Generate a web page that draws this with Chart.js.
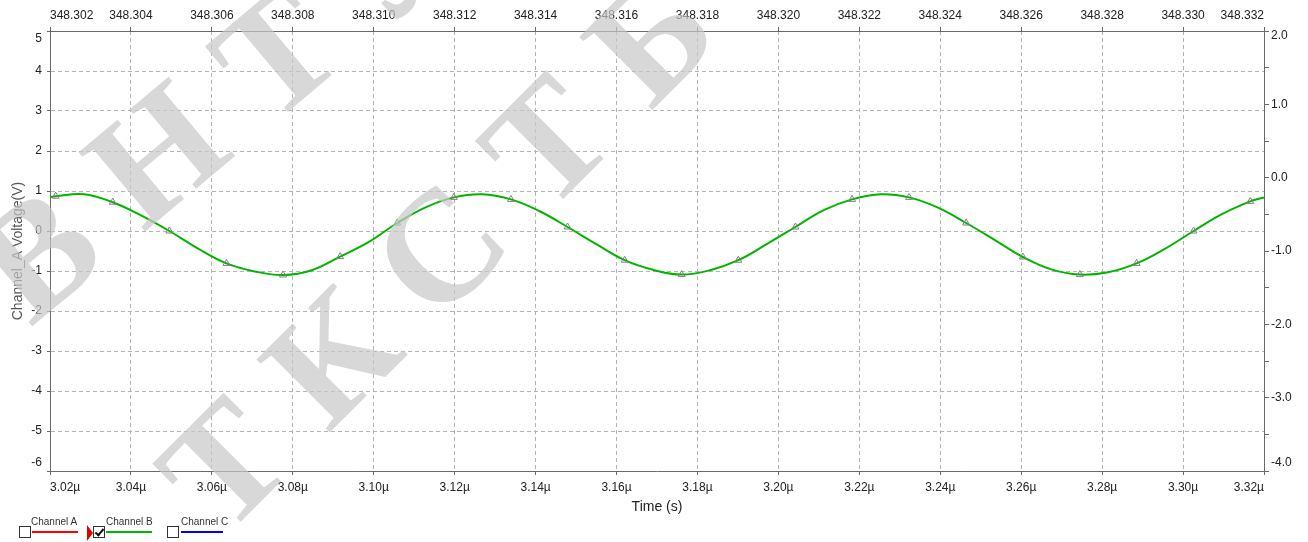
<!DOCTYPE html>
<html>
<head>
<meta charset="utf-8">
<script src="https://cdn.jsdelivr.net/npm/chart.js@4.4.1/dist/chart.umd.min.js"></script>
<style>
  html, body { margin: 0; padding: 0; background: #fff; }
  #wrap { position: relative; width: 1308px; height: 542px; overflow: hidden;
          font-family: "Liberation Sans", Arial, sans-serif; }
  #c { position: absolute; left: 0; top: 0; }
  .cb { position: absolute; top: 526px; width: 10px; height: 10px; border: 1px solid #333; background: #fff; }
  .cb.on::after { content: ""; position: absolute; left: 3px; top: 0px; width: 3px; height: 7px;
                  border-right: 2px solid #111; border-bottom: 2px solid #111; transform: rotate(40deg); }
  .lbl { position: absolute; top: 516px; font-size: 10px; line-height: 12px; color: #333; white-space: nowrap; }
  .sw { position: absolute; top: 531px; height: 2px; }
  .sel { position: absolute; left: 87px; top: 525px; width: 0; height: 0;
         border-left: 6px solid #e00000; border-top: 8px solid transparent; border-bottom: 8px solid transparent; }
  .wm { position: absolute; font-family: "Liberation Serif", "DejaVu Serif", serif; font-weight: bold;
        font-size: 158px; line-height: 1; letter-spacing: 42px; color: rgba(200,200,200,0.7); white-space: nowrap;
        transform-origin: 0 141px; pointer-events: none; }
</style>
</head>
<body>
<div id="wrap">
  <canvas id="c" width="1308" height="542"></canvas>

  <div class="cb" style="left:19px"></div>
  <div class="lbl" style="left:31px">Channel A</div>
  <div class="sw" style="left:32px;width:46px;background:#ff0000"></div>

  <div class="sel"></div>
  <div class="cb on" style="left:93px"></div>
  <div class="lbl" style="left:106px">Channel B</div>
  <div class="sw" style="left:106px;width:46px;background:#00b400"></div>

  <div class="cb" style="left:167px"></div>
  <div class="lbl" style="left:181px">Channel C</div>
  <div class="sw" style="left:181px;width:42px;background:#0000ff"></div>

  <div class="wm" style="left:36px;top:194px;transform:rotate(-40deg)">ВНТУ</div>
  <div class="wm" style="left:230px;top:404px;transform:rotate(-45deg)">ТКСТБ М</div>
</div>

<script>
// Time of each sample, in microseconds
const TIME_US = [3.0200, 3.0214, 3.0284, 3.0355, 3.0425, 3.0495, 3.0566, 3.0636, 3.0706, 3.0776,
                 3.0847, 3.0917, 3.0987, 3.1058, 3.1128, 3.1198, 3.1268, 3.1339, 3.1409, 3.1479,
                 3.1550, 3.1620, 3.1690, 3.1761, 3.1831, 3.1901, 3.1971, 3.2042, 3.2112, 3.2182,
                 3.2253, 3.2323, 3.2393, 3.2464, 3.2534, 3.2604, 3.2674, 3.2745, 3.2815, 3.2885,
                 3.2956, 3.3026, 3.3096, 3.3166, 3.3200];

// Channel B voltage (V) at each sample
const CHANNEL_B = [0.85, 0.87, 0.92, 0.72, 0.39, 0.00, -0.44, -0.81, -1.01, -1.10,
                   -0.98, -0.64, -0.28, 0.20, 0.59, 0.84, 0.92, 0.79, 0.50, 0.10,
                   -0.33, -0.73, -0.97, -1.09, -0.98, -0.73, -0.33, 0.10, 0.52, 0.79,
                   0.92, 0.84, 0.59, 0.20, -0.22, -0.65, -0.96, -1.09, -1.03, -0.81,
                   -0.44, 0.00, 0.42, 0.74, 0.84];

// Axis tick values
const BOTTOM_TICKS = [3.02, 3.04, 3.06, 3.08, 3.10, 3.12, 3.14, 3.16, 3.18, 3.20, 3.22, 3.24, 3.26, 3.28, 3.30, 3.32];
const TOP_TICKS = [348.302, 348.304, 348.306, 348.308, 348.310, 348.312, 348.314, 348.316,
                   348.318, 348.320, 348.322, 348.324, 348.326, 348.328, 348.330, 348.332];
const LEFT_TICKS = [5, 4, 3, 2, 1, 0, -1, -2, -3, -4, -5, -6];
const RIGHT_TICKS = [2.0, 1.5, 1.0, 0.5, 0.0, -0.5, -1.0, -1.5, -2.0, -2.5, -3.0, -3.5, -4.0];

const FONT = '"Liberation Sans", Arial, sans-serif';
const TICK_FONT = { family: FONT, size: 12 };
const AXIS_COLOR = '#6a6a6a';
const GRID_COLOR = '#b4b4b4';

const setTicks = list => scale => { scale.ticks = list.map(v => ({ value: v })); };
const isEnd = (list, v) => v === list[0] || v === list[list.length - 1];

// End labels of the vertical axes sit a little inside the frame
const edgeLabels = {
  id: 'edgeLabels',
  afterDraw(chart) {
    const { ctx } = chart;
    const yL = chart.scales.y, yR = chart.scales.y2;
    ctx.save();
    ctx.font = '12px ' + FONT;
    ctx.fillStyle = '#222';
    ctx.textBaseline = 'middle';
    ctx.textAlign = 'right';
    ctx.fillText(String(yL.max), yL.right - 8, yL.getPixelForValue(yL.max) + 8);
    ctx.fillText(String(yL.min), yL.right - 8, yL.getPixelForValue(yL.min) - 8);
    ctx.textAlign = 'left';
    ctx.fillText(yR.max.toFixed(1), yR.left + 7, yR.getPixelForValue(yR.max) + 5);
    ctx.fillText(yR.min.toFixed(1), yR.left + 7, yR.getPixelForValue(yR.min) - 8);
    ctx.restore();
  }
};

new Chart(document.getElementById('c'), {
  type: 'line',
  data: {
    datasets: [{
      label: 'Channel B',
      data: TIME_US.map((t, i) => ({ x: t, y: CHANNEL_B[i] })),
      xAxisID: 'x',
      yAxisID: 'y',
      borderColor: '#00b400',
      borderWidth: 2,
      tension: 0.4,
      pointStyle: 'triangle',
      pointRadius: c => (c.dataIndex % 2 === 1 ? 4 : 0),
      pointBorderColor: '#808080',
      pointBackgroundColor: 'rgba(255,255,255,0)',
      pointBorderWidth: 1,
      fill: false
    }]
  },
  options: {
    responsive: false,
    animation: false,
    layout: { padding: 0 },
    plugins: { legend: { display: false }, tooltip: { enabled: false } },
    scales: {
      x: {
        type: 'linear', position: 'bottom', min: 3.02, max: 3.32,
        afterBuildTicks: setTicks(BOTTOM_TICKS),
        afterFit: s => { s.height = 71; },
        ticks: { align: 'inner', font: TICK_FONT, color: '#222', padding: 5, maxRotation: 0, autoSkip: false,
                 callback: v => v.toFixed(2) + 'µ' },
        grid: { color: GRID_COLOR, lineWidth: 1, tickLength: 4, tickColor: AXIS_COLOR },
        border: { color: AXIS_COLOR, width: 1, dash: [4, 3] },
        title: { display: true, text: 'Time (s)', color: '#222', font: { family: FONT, size: 14 },
                 padding: { top: 0, bottom: 26 } }
      },
      xTop: {
        type: 'linear', position: 'top', min: 348.302, max: 348.332,
        afterBuildTicks: setTicks(TOP_TICKS),
        afterFit: s => { s.height = 31; },
        ticks: { align: 'inner', font: TICK_FONT, color: '#222', padding: 4, maxRotation: 0, autoSkip: false,
                 callback: v => v.toFixed(3) },
        grid: { drawOnChartArea: false, tickLength: 4, tickColor: AXIS_COLOR },
        border: { color: AXIS_COLOR, width: 1 }
      },
      y: {
        type: 'linear', position: 'left', min: -6, max: 5,
        afterBuildTicks: setTicks(LEFT_TICKS),
        afterFit: s => { s.width = 50; },
        ticks: { font: TICK_FONT, color: '#222', padding: 5, autoSkip: false,
                 callback: v => (isEnd(LEFT_TICKS, v) ? '' : String(v)) },
        grid: { color: GRID_COLOR, lineWidth: 1, tickLength: 3, tickColor: AXIS_COLOR },
        border: { color: AXIS_COLOR, width: 1, dash: [4, 3] },
        title: { display: true, text: 'Channel_A Voltage(V)', color: '#555', font: { family: FONT, size: 14 },
                 padding: { top: 10, bottom: 0 } }
      },
      y2: {
        type: 'linear', position: 'right', min: -4, max: 2,
        afterBuildTicks: setTicks(RIGHT_TICKS),
        afterFit: s => { s.width = 44; },
        ticks: { font: TICK_FONT, color: '#222', padding: 2, autoSkip: false,
                 callback: v => (Number.isInteger(v) && !isEnd(RIGHT_TICKS, v) ? v.toFixed(1) : '') },
        grid: { drawOnChartArea: false, tickLength: 5, tickColor: AXIS_COLOR },
        border: { color: AXIS_COLOR, width: 1 }
      }
    }
  },
  plugins: [edgeLabels]
});
</script>
</body>
</html>
